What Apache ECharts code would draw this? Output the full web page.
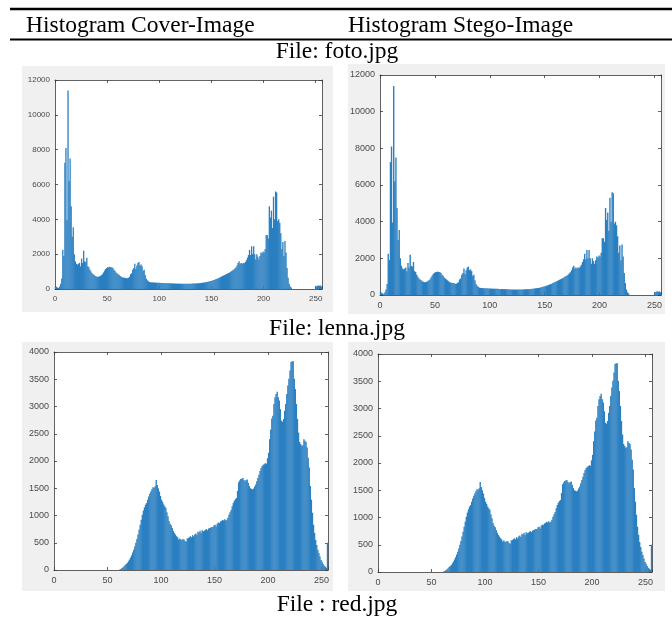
<!DOCTYPE html>
<html><head><meta charset="utf-8">
<script src="https://cdn.jsdelivr.net/npm/echarts@6/dist/echarts.min.js"></script>
<style>html,body{margin:0;padding:0;background:#fff}#c{width:672px;height:617px}</style>
</head><body><div id="c"></div>
<script>
// ---- data (pixel intensity histograms, 256 bins 0..255) ----
const headerTexts = ['Histogram Cover-Image', 'Histogram Stego-Image'];
const fileTexts = ['File: foto.jpg', 'File: lenna.jpg', 'File : red.jpg'];
const xTicks = [0, 50, 100, 150, 200, 250];
const fotoYTicks = [0, 2000, 4000, 6000, 8000, 10000, 12000];
const lennaYTicks = [0, 500, 1000, 1500, 2000, 2500, 3000, 3500, 4000];

const fotoCover = [
150,120,80,60,150,300,600,2250,1900,7250,
8100,3950,11400,6200,7500,4750,3000,3550,2000,1600,
1450,1400,1450,1500,1300,1750,1500,2200,1600,1550,
1800,1300,1250,1100,1000,900,850,800,750,720,
700,700,720,750,800,850,950,1050,1150,1200,
1250,1250,1280,1250,1250,1200,1100,1050,950,900,
850,800,750,700,680,650,650,640,620,620,
650,700,850,900,1100,1200,1450,1150,1350,1500,
1550,1350,1400,1300,1050,1100,800,600,500,450,
400,390,380,380,375,370,370,365,360,360,
355,350,345,345,340,340,335,335,330,330,
325,325,320,320,315,315,310,310,305,305,
300,300,300,295,295,295,300,300,300,305,
305,310,310,315,320,320,325,330,335,340,
350,360,370,380,390,400,415,430,445,460,
480,500,520,545,570,595,620,650,680,710,
740,770,800,830,860,890,920,950,990,1030,
1070,1120,1180,1240,1350,1500,1600,1450,1500,1450,
1500,1480,1550,1650,1800,1950,2250,1950,2450,2000,
2450,2000,1700,2000,1850,1700,1900,2100,2050,2150,
2100,2300,3100,3100,2900,4750,4100,4500,3500,5300,
4000,5600,5550,3900,4000,3800,3200,2300,2700,1900,
2750,2100,1200,650,300,150,80,0,0,0,
0,0,0,0,0,0,0,0,0,0,
0,0,0,0,0,0,0,0,0,0,
150,180,200,180,200,150];
const fotoStego = [
150,120,80,60,150,300,600,2250,1900,7250,
8100,3950,11400,6200,7500,4750,3000,3550,2000,1600,
1450,1400,1450,1500,1300,1750,1500,2200,1600,1550,
1800,1300,1250,1100,1000,900,850,800,750,720,
700,700,720,750,800,850,950,1050,1150,1200,
1250,1250,1280,1250,1250,1200,1100,1050,950,900,
850,800,750,700,680,650,650,640,620,620,
650,700,850,900,1100,1200,1450,1150,1350,1500,
1550,1350,1400,1300,1050,1100,800,600,500,450,
400,390,380,380,375,370,370,365,360,360,
355,350,345,345,340,340,335,335,330,330,
325,325,320,320,315,315,310,310,305,305,
300,300,300,295,295,295,300,300,300,305,
305,310,310,315,320,320,325,330,335,340,
350,360,370,380,390,400,415,430,445,460,
480,500,520,545,570,595,620,650,680,710,
740,770,800,830,860,890,920,950,990,1030,
1070,1120,1180,1240,1350,1500,1600,1450,1500,1450,
1500,1480,1550,1650,1800,1950,2250,1950,2450,2000,
2450,2000,1700,2000,1850,1700,1900,2100,2050,2150,
2100,2300,3100,3100,2900,4750,4100,4500,3500,5300,
4000,5600,5550,3900,4000,3800,3200,2300,2700,1900,
2750,2100,1200,650,300,150,80,0,0,0,
0,0,0,0,0,0,0,0,0,0,
0,0,0,0,0,0,0,0,0,0,
150,180,200,180,200,150];
const lennaCover = [
0,0,0,0,0,0,0,0,0,0,
0,0,0,0,0,0,0,0,0,0,
0,0,0,0,0,0,0,0,0,0,
0,0,0,0,0,0,0,0,0,0,
0,0,0,0,0,0,0,0,0,0,
0,0,0,0,0,0,0,0,0,0,
0,10,20,35,50,70,90,110,130,160,
190,230,270,320,370,430,500,570,650,740,
830,920,1015,1090,1150,1200,1230,1290,1350,1400,
1440,1480,1520,1510,1535,1650,1560,1500,1440,1360,
1290,1250,1200,1170,1140,1060,985,900,850,820,
770,720,680,650,620,600,560,580,560,550,
570,560,530,520,580,585,600,620,600,640,
615,650,670,640,700,690,720,680,730,710,
720,740,750,730,760,770,780,790,790,820,
830,800,850,870,860,890,900,920,910,930,
910,920,960,1015,1060,1100,1170,1230,1270,1300,
1320,1450,1610,1640,1670,1680,1690,1650,1630,1650,
1660,1600,1540,1500,1490,1480,1495,1530,1570,1630,
1690,1750,1815,1870,1910,1930,1940,1960,1950,2050,
2150,2400,2580,2780,2830,3045,3170,3230,3270,3170,
3110,2950,2740,2720,2770,2920,3045,3230,3385,3510,
3660,3815,3830,3830,3510,3320,3045,2770,2520,2350,
2310,2280,2290,2400,2370,2350,2250,2060,1880,1540,
1290,1050,830,680,550,460,370,310,250,185,
150,110,80,60,40,500];
const lennaStego = [
0,0,0,0,0,0,0,0,0,0,
0,0,0,0,0,0,0,0,0,0,
0,0,0,0,0,0,0,0,0,0,
0,0,0,0,0,0,0,0,0,0,
0,0,0,0,0,0,0,0,0,0,
0,0,0,0,0,0,0,0,0,0,
0,10,20,35,50,70,90,110,130,160,
190,230,270,320,370,430,500,570,650,740,
830,920,1015,1090,1150,1200,1230,1290,1350,1400,
1440,1480,1520,1510,1535,1650,1560,1500,1440,1360,
1290,1250,1200,1170,1140,1060,985,900,850,820,
770,720,680,650,620,600,560,580,560,550,
570,560,530,520,580,585,600,620,600,640,
615,650,670,640,700,690,720,680,730,710,
720,740,750,730,760,770,780,790,790,820,
830,800,850,870,860,890,900,920,910,930,
910,920,960,1015,1060,1100,1170,1230,1270,1300,
1320,1450,1610,1640,1670,1680,1690,1650,1630,1650,
1660,1600,1540,1500,1490,1480,1495,1530,1570,1630,
1690,1750,1815,1870,1910,1930,1940,1960,1950,2050,
2150,2400,2580,2780,2830,3045,3170,3230,3270,3170,
3110,2950,2740,2720,2770,2920,3045,3230,3385,3510,
3660,3815,3830,3830,3510,3320,3045,2770,2520,2350,
2310,2280,2290,2400,2370,2350,2250,2060,1880,1540,
1290,1050,830,680,550,460,370,310,250,185,
150,110,80,60,40,500];

// ---- layout ----
const panels = [
  {data: fotoCover,  yTicks: fotoYTicks,  grid: {left: 55,  top: 80,  width: 267, height: 209}, fs: 8,  bg: [22, 66, 311, 246]},
  {data: fotoStego,  yTicks: fotoYTicks,  grid: {left: 380, top: 75,  width: 281, height: 220}, fs: 9,  bg: [348, 64, 317, 250]},
  {data: lennaCover, yTicks: lennaYTicks, grid: {left: 54,  top: 352, width: 274, height: 218}, fs: 9,  bg: [22, 342, 311, 249]},
  {data: lennaStego, yTicks: lennaYTicks, grid: {left: 378, top: 354, width: 274, height: 218}, fs: 9,  bg: [348, 342, 317, 249]}
];

const AX = '#3a3a3a', LBL = '#4a4a4a', BAR = '#2a7fc1';
const grids = [], xAxes = [], yAxes = [], series = [], graphics = [];

panels.forEach((p, i) => {
  grids.push(Object.assign({show: true, backgroundColor: '#fff', borderWidth: 0, containLabel: false}, p.grid));
  const xmin = 0, xmax = 256;
  const ymax = p.yTicks[p.yTicks.length - 1], yint = p.yTicks[1] - p.yTicks[0];
  const common = {gridIndex: i, min: xmin, max: xmax, interval: 50, type: 'value',
    splitLine: {show: false}, axisLine: {show: true, onZero: false, lineStyle: {color: AX, width: 0.8}},
    axisTick: {show: true, inside: true, length: 3, lineStyle: {color: AX, width: 0.8}}};
  xAxes.push(Object.assign({}, common, {position: 'bottom',
    axisLabel: {show: true, fontSize: p.fs, color: LBL, fontFamily: 'Liberation Sans', margin: 6,
      formatter: v => xTicks.includes(v) ? String(v) : ''}}));
  xAxes.push(Object.assign({}, common, {position: 'top', axisLabel: {show: false}}));
  const ycommon = {gridIndex: i, min: 0, max: ymax, interval: yint, type: 'value',
    splitLine: {show: false}, axisLine: {show: true, onZero: false, lineStyle: {color: AX, width: 0.8}},
    axisTick: {show: true, inside: true, length: 3, lineStyle: {color: AX, width: 0.8}}};
  yAxes.push(Object.assign({}, ycommon, {position: 'left',
    axisLabel: {show: true, fontSize: p.fs, color: LBL, fontFamily: 'Liberation Sans', margin: 5,
      formatter: v => p.yTicks.includes(v) ? String(v) : ''}}));
  yAxes.push(Object.assign({}, ycommon, {position: 'right', axisLabel: {show: false}}));
  series.push({type: 'bar', xAxisIndex: i * 2, yAxisIndex: i * 2, barWidth: '125%',
    data: p.data.map((v, k) => [k + 0.5, v]),
    itemStyle: {color: BAR}, animation: false, silent: true});
  graphics.push({type: 'rect', z: -10, silent: true,
    shape: {x: p.bg[0], y: p.bg[1], width: p.bg[2], height: p.bg[3]}, style: {fill: '#f0f0f0'}});
});

// rules
graphics.push({type: 'line', z: 50, shape: {x1: 10, y1: 9, x2: 672, y2: 9}, style: {stroke: '#000', lineWidth: 2.5}});
graphics.push({type: 'line', z: 50, shape: {x1: 10, y1: 39.5, x2: 672, y2: 39.5}, style: {stroke: '#000', lineWidth: 2}});
// texts
const serif = '23.5px "Liberation Serif"';
graphics.push({type: 'text', z: 100, style: {text: headerTexts[0], x: 26, y: 26, font: serif, fill: '#000', textAlign: 'left', textVerticalAlign: 'middle'}});
graphics.push({type: 'text', z: 100, style: {text: headerTexts[1], x: 348, y: 26, font: serif, fill: '#000', textAlign: 'left', textVerticalAlign: 'middle'}});
const fileY = [52, 329, 605];
fileTexts.forEach((t, i) => graphics.push({type: 'text', z: 100,
  style: {text: t, x: 337, y: fileY[i], font: serif, fill: '#000', textAlign: 'center', textVerticalAlign: 'middle'}}));

const chart = echarts.init(document.getElementById('c'), null, {renderer: 'canvas', width: 672, height: 617});
chart.setOption({animation: false, backgroundColor: '#fff', grid: grids, xAxis: xAxes, yAxis: yAxes, series: series, graphic: graphics});
</script></body></html>
